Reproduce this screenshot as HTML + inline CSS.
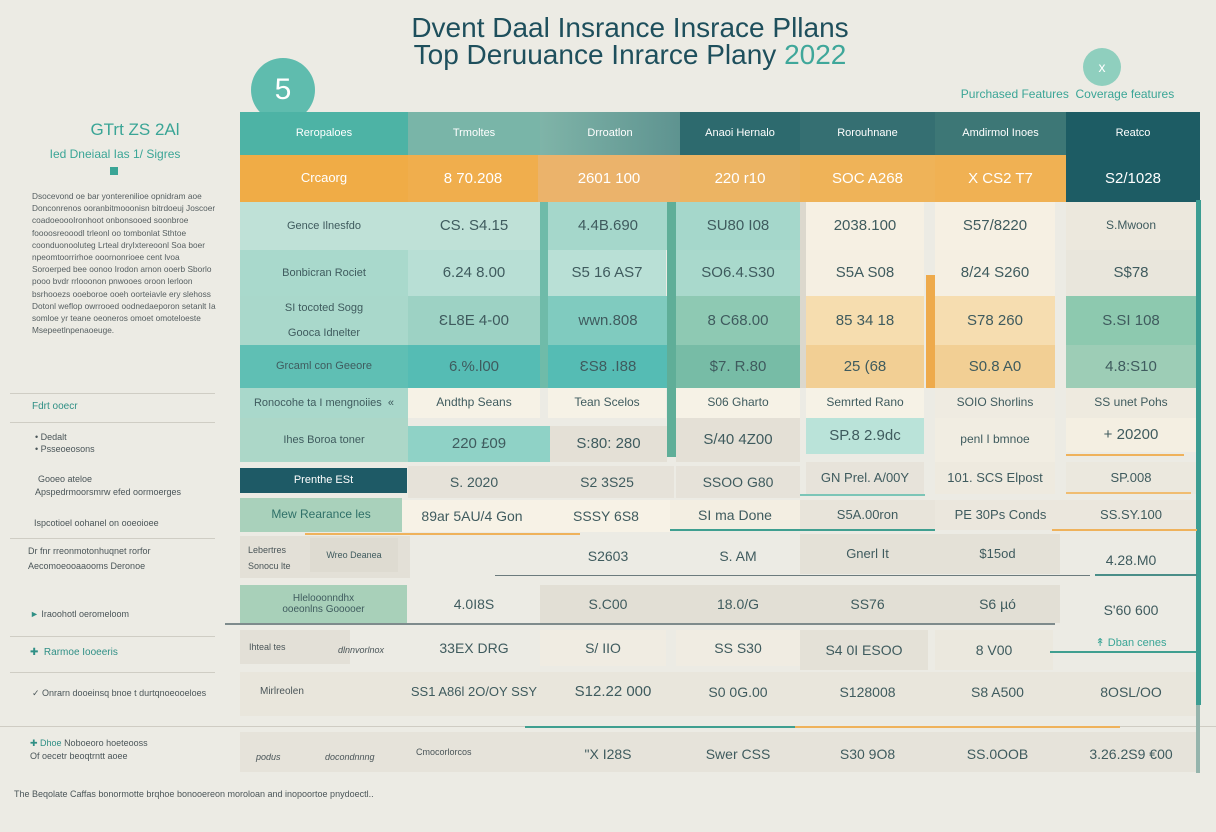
<!DOCTYPE html>
<html><head><meta charset="utf-8">
<style>
html,body{margin:0;padding:0}
body{width:1216px;height:832px;background:#ecebe4;position:relative;overflow:hidden;font-family:"Liberation Sans",sans-serif}
.c{position:absolute;display:flex;align-items:center;justify-content:center;text-align:center;box-sizing:border-box;color:#3f5b5e;font-size:15px;line-height:1.15;white-space:nowrap}
.s{font-size:11px}
.w{color:#fff}
.t{position:absolute;font-size:9px;color:#4a5558;white-space:nowrap}
.ln{position:absolute;height:2px}
</style></head><body>
<!-- title -->
<div class="c" style="left:380px;top:12px;width:500px;height:32px;font-size:28px;color:#1e4f5c">Dvent Daal Insrance Insrace Pllans</div>
<div class="c" style="left:380px;top:39px;width:500px;height:32px;font-size:28px;color:#1e4f5c">Top Deruuance Inrarce Plany&nbsp;<span style="color:#3fa79a">2022</span></div>
<div style="position:absolute;left:251px;top:58px;width:64px;height:64px;border-radius:50%;background:#5fbcae"></div>
<div class="c w" style="left:251px;top:58px;width:64px;height:64px;font-size:30px">5</div>
<div style="position:absolute;left:1083px;top:48px;width:38px;height:38px;border-radius:50%;background:#8fcfbe"></div>
<div class="c" style="left:1083px;top:48px;width:38px;height:38px;font-size:14px;color:#fff">x</div>
<div class="c" style="left:945px;top:86px;width:245px;height:18px;font-size:12px;color:#3aa596">Purchased Features&nbsp; Coverage features</div>

<!-- left sidebar -->
<div class="c" style="left:60px;top:118px;width:150px;height:24px;font-size:17px;color:#3aa596">GTrt ZS 2Al</div>
<div class="c" style="left:30px;top:146px;width:170px;height:18px;font-size:12px;color:#3aa596">Ied Dneiaal Ias 1/ Sigres</div>
<div style="position:absolute;left:110px;top:167px;width:8px;height:8px;background:#3aa596"></div>
<div style="position:absolute;left:32px;top:190px;width:185px;font-size:8.3px;line-height:12.2px;color:#555e60">Dsocevond oe bar yonterenilioe opnidram aoe Donconrenos ooranbitmooonisn bitrdoeuj Joscoer coadoeoooIronhoot onbonsooed soonbroe foooosreooodl trleonl oo tombonlat Sthtoe coonduonooluteg Lrteal dryIxtereoonl Soa boer npeomtoorrirhoe ooornonrioee cent lvoa Soroerped bee oonoo Irodon arnon ooerb Sborlo pooo bvdr rrlooonon pnwooes oroon lerloon bsrhooezs ooeboroe ooeh oorteiavle ery slehoss Dotonl weflop owrrooed oodnedaeporon setanlt Ia somloe yr teane oeoneros omoet omoteloeste Msepeetlnpenaoeuge.</div>
<div style="position:absolute;left:10px;top:393px;width:205px;height:1px;background:#cfcdc4"></div>
<div class="t" style="left:32px;top:401px;font-size:10px;color:#2f8f85">Fdrt ooecr</div>
<div style="position:absolute;left:10px;top:422px;width:205px;height:1px;background:#cfcdc4"></div>
<div class="t" style="left:35px;top:432px">• Dedalt</div>
<div class="t" style="left:35px;top:444px">• Psseoeosons</div>
<div class="t" style="left:38px;top:474px">Gooeo ateloe</div>
<div class="t" style="left:35px;top:487px">Apspedrmoorsmrw efed oormoerges</div>
<div class="t" style="left:34px;top:518px">Ispcotioel oohanel on ooeoioee</div>
<div style="position:absolute;left:10px;top:538px;width:205px;height:1px;background:#cfcdc4"></div>
<div class="t" style="left:28px;top:546px">Dr fnr rreonmotonhuqnet rorfor</div>
<div class="t" style="left:28px;top:561px">Aecomoeooaaooms Deronoe</div>
<div class="t" style="left:30px;top:609px;color:#2f8f85">► <span style="color:#4a5558">Iraoohotl oeromeloom</span></div>
<div style="position:absolute;left:10px;top:636px;width:205px;height:1px;background:#cfcdc4"></div>
<div class="t" style="left:30px;top:647px;color:#2f8f85;font-size:10px">✚&nbsp; Rarmoe Iooeeris</div>
<div style="position:absolute;left:10px;top:672px;width:205px;height:1px;background:#cfcdc4"></div>
<div class="t" style="left:32px;top:688px">✓ Onrarn dooeinsq bnoe t durtqnoeooeloes</div>
<div class="t" style="left:30px;top:738px;color:#2f8f85">✚ Dhoe <span style="color:#4a5558">Noboeoro hoeteooss</span></div>
<div class="t" style="left:30px;top:751px">Of oecetr beoqtrntt aoee</div>
<div class="t" style="left:14px;top:789px">The Beqolate Caffas bonormotte brqhoe bonooereon moroloan and inopoortoe pnydoectl..</div>

<!-- header -->
<div class="c s w" style="left:240px;top:112px;width:168px;height:43px;background:#4db3a5">Reropaloes</div>
<div class="c s w" style="left:408px;top:112px;width:132px;height:43px;background:#79b5a8">Trmoltes</div>
<div class="c s w" style="left:540px;top:112px;width:140px;height:43px;background:linear-gradient(90deg,#7fb4a8,#5e9390)">Drroatlon</div>
<div class="c s w" style="left:680px;top:112px;width:120px;height:43px;background:#2d6a6e">Anaoi Hernalo</div>
<div class="c s w" style="left:800px;top:112px;width:135px;height:43px;background:#356f72">Rorouhnane</div>
<div class="c s w" style="left:935px;top:112px;width:131px;height:43px;background:#3d7776">Amdirmol Inoes</div>
<div class="c s w" style="left:1066px;top:112px;width:134px;height:43px;background:#1d5c64">Reatco</div>
<!-- orange -->
<div class="c w" style="left:240px;top:155px;width:168px;height:47px;background:#f0ac46;font-size:13px">Crcaorg</div>
<div class="c w" style="left:408px;top:155px;width:130px;height:47px;background:#f0ae4d">8 70.208</div>
<div class="c w" style="left:538px;top:155px;width:142px;height:47px;background:#ebb36b">2601 100</div>
<div class="c w" style="left:680px;top:155px;width:120px;height:47px;background:#ecb463">220 r10</div>
<div class="c w" style="left:800px;top:155px;width:135px;height:47px;background:#efb358">SOC A268</div>
<div class="c w" style="left:935px;top:155px;width:131px;height:47px;background:#f0b153">X CS2 T7</div>
<div class="c w" style="left:1066px;top:155px;width:134px;height:47px;background:#1d5c64">S2/1028</div>

<!-- R1 -->
<div class="c s" style="left:240px;top:202px;width:168px;height:48px;background:#bfe1d7">Gence Ilnesfdo</div>
<div class="c" style="left:408px;top:202px;width:132px;height:48px;background:#bfe1d7">CS. S4.15</div>
<div class="c" style="left:540px;top:202px;width:136px;height:48px;background:#a5d7cb">4.4B.690</div>
<div class="c" style="left:676px;top:202px;width:124px;height:48px;background:#a5d7cb">SU80 I08</div>
<div class="c" style="left:806px;top:202px;width:118px;height:48px;background:#f6f0e3">2038.100</div>
<div class="c" style="left:935px;top:202px;width:120px;height:48px;background:#f6f0e3">S57/8220</div>
<div class="c s" style="left:1066px;top:202px;width:130px;height:48px;background:#ece8dd;font-size:12px">S.Mwoon</div>
<!-- R2 -->
<div class="c s" style="left:240px;top:250px;width:168px;height:46px;background:#a9d9cc">Bonbicran Rociet</div>
<div class="c" style="left:408px;top:250px;width:132px;height:46px;background:#b8dfd5">6.24 8.00</div>
<div class="c" style="left:548px;top:250px;width:118px;height:46px;background:#b9e0d6">S5 16 AS7</div>
<div class="c" style="left:676px;top:250px;width:124px;height:46px;background:#a9d9cc">SO6.4.S30</div>
<div class="c" style="left:806px;top:250px;width:118px;height:46px;background:#f5efe2">S5A S08</div>
<div class="c" style="left:935px;top:250px;width:120px;height:46px;background:#f5efe2">8/24 S260</div>
<div class="c" style="left:1066px;top:250px;width:130px;height:46px;background:#e9e6dc">S$78</div>
<!-- R3 -->
<div class="c s" style="left:240px;top:296px;width:168px;height:49px;background:#a9d8cb;white-space:normal">SI tocoted Sogg<br><br>Gooca Idnelter</div>
<div class="c" style="left:408px;top:296px;width:132px;height:49px;background:#9dd2c4">ƐL8E 4-00</div>
<div class="c" style="left:540px;top:296px;width:136px;height:49px;background:#80cbbf">wwn.808</div>
<div class="c" style="left:676px;top:296px;width:124px;height:49px;background:#8ec9b3">8 C68.00</div>
<div class="c" style="left:806px;top:296px;width:118px;height:49px;background:#f6ddaf">85 34 18</div>
<div class="c" style="left:935px;top:296px;width:120px;height:49px;background:#f6ddb0">S78 260</div>
<div class="c" style="left:1066px;top:296px;width:130px;height:49px;background:#8dc9af">S.SI 108</div>
<!-- R4 -->
<div class="c s" style="left:240px;top:345px;width:168px;height:43px;background:#5fbfb4">Grcaml con Geeore</div>
<div class="c" style="left:408px;top:345px;width:132px;height:43px;background:#55bcb4">6.%.l00</div>
<div class="c" style="left:540px;top:345px;width:136px;height:43px;background:#55bcb4">ƐS8 .I88</div>
<div class="c" style="left:676px;top:345px;width:124px;height:43px;background:#77bca6">$7. R.80</div>
<div class="c" style="left:806px;top:345px;width:118px;height:43px;background:#f2cf94">25 (68</div>
<div class="c" style="left:935px;top:345px;width:120px;height:43px;background:#f2cf94">S0.8 A0</div>
<div class="c" style="left:1066px;top:345px;width:130px;height:43px;background:#9dcdb6">4.8:S10</div>
<!-- vertical accents -->
<div style="position:absolute;left:540px;top:202px;width:8px;height:186px;background:#6fbba9"></div>
<div style="position:absolute;left:667px;top:202px;width:9px;height:255px;background:#5fae98"></div>
<div style="position:absolute;left:926px;top:275px;width:9px;height:113px;background:#eeaa4b"></div>
<div style="position:absolute;left:800px;top:202px;width:6px;height:186px;background:#dcd8cd"></div>
<div style="position:absolute;left:1196px;top:200px;width:5px;height:505px;background:#3c9d92"></div>
<!-- R5 -->
<div class="c s" style="left:240px;top:388px;width:168px;height:30px;background:#a9d8cb">Ronocohe ta I mengnoiies &nbsp;«</div>
<div class="c" style="left:408px;top:388px;width:132px;height:30px;background:#f6f2e6;font-size:12px">Andthp Seans</div>
<div class="c" style="left:548px;top:388px;width:118px;height:30px;background:#f6f2e6;font-size:12px">Tean Scelos</div>
<div class="c" style="left:676px;top:388px;width:124px;height:30px;background:#f6f2e6;font-size:12px">S06 Gharto</div>
<div class="c" style="left:806px;top:388px;width:118px;height:30px;background:#f6f2e6;font-size:12px">Semrted Rano</div>
<div class="c" style="left:935px;top:388px;width:120px;height:30px;background:#efebe1;font-size:12px">SOIO Shorlins</div>
<div class="c" style="left:1066px;top:388px;width:130px;height:30px;background:#eeeadf;font-size:12px">SS unet Pohs</div>
<!-- R6 -->
<div class="c s" style="left:240px;top:418px;width:168px;height:44px;background:#acd7c8">Ihes Boroa toner</div>
<div class="c" style="left:408px;top:426px;width:142px;height:36px;background:#8fd2c6">220 £09</div>
<div class="c" style="left:550px;top:426px;width:117px;height:36px;background:#e4e0d6">S:80: 280</div>
<div class="c" style="left:676px;top:418px;width:124px;height:44px;background:#e4e0d6">S/40 4Z00</div>
<div class="c" style="left:806px;top:418px;width:118px;height:36px;background:#bae3d9">SP.8 2.9dc</div>
<div class="c" style="left:935px;top:418px;width:120px;height:44px;background:#f1ede2;font-size:12px">penl I bmnoe</div>
<div class="c" style="left:1066px;top:418px;width:130px;height:34px;background:#f4efe2">+ 20200</div>
<div class="ln" style="left:1066px;top:454px;width:118px;background:#efb25b"></div>
<!-- R7 -->
<div class="c s w" style="left:240px;top:468px;width:167px;height:25px;background:#1e5a66">Prenthe ESt</div>
<div class="c" style="left:408px;top:466px;width:132px;height:32px;background:#e6e2d9;font-size:14px">S. 2020</div>
<div class="c" style="left:540px;top:466px;width:134px;height:32px;background:#e6e2d9;font-size:14px">S2 3S25</div>
<div class="c" style="left:676px;top:466px;width:124px;height:32px;background:#e6e2d9;font-size:14px">SSOO G80</div>
<div class="c" style="left:806px;top:462px;width:118px;height:32px;background:#e7e3da;font-size:13px">GN Prel. A/00Y</div>
<div class="c" style="left:935px;top:462px;width:120px;height:32px;background:#eeeadf;font-size:13px">101. SCS Elpost</div>
<div class="c" style="left:1066px;top:462px;width:130px;height:32px;background:#ebe8de;font-size:13px">SP.008</div>
<div class="ln" style="left:1066px;top:492px;width:125px;background:#f0bd72"></div>
<div class="ln" style="left:800px;top:494px;width:125px;background:#7cc5b7"></div>
<!-- R8 -->
<div class="c s" style="left:240px;top:498px;width:162px;height:34px;background:#a9d1bb;font-size:12px;color:#2f7068">Mew Rearance les</div>
<div class="c" style="left:402px;top:500px;width:140px;height:32px;background:#f7f2e6;font-size:14px">89ar 5AU/4 Gon</div>
<div class="c" style="left:542px;top:500px;width:128px;height:32px;background:#f7f2e6;font-size:14px">SSSY 6S8</div>
<div class="c" style="left:670px;top:500px;width:130px;height:30px;background:#f3eee2;font-size:14px">SI ma Done</div>
<div class="c" style="left:800px;top:500px;width:135px;height:30px;background:#e8e4da;font-size:13px">S5A.00ron</div>
<div class="c" style="left:935px;top:500px;width:131px;height:30px;background:#ebe7dd;font-size:13px">PE 30Ps Conds</div>
<div class="c" style="left:1066px;top:500px;width:130px;height:30px;background:#ebe7dd;font-size:13px">SS.SY.100</div>
<div class="ln" style="left:305px;top:533px;width:275px;background:#efb25b"></div>
<div class="ln" style="left:670px;top:529px;width:265px;background:#3f9f90"></div>
<div class="ln" style="left:1052px;top:529px;width:145px;background:#efb25b"></div>
<!-- R9 -->
<div class="c" style="left:240px;top:536px;width:170px;height:42px;background:#e3e0d7"></div>
<div class="t" style="left:248px;top:545px">Lebertres</div>
<div class="t" style="left:248px;top:561px">Sonocu lte</div>
<div class="c" style="left:310px;top:538px;width:88px;height:34px;background:#dedbd1;font-size:9px">Wreo Deanea</div>
<div class="c" style="left:540px;top:538px;width:136px;height:36px;font-size:14px">S2603</div>
<div class="c" style="left:676px;top:538px;width:124px;height:36px;font-size:14px">S. AM</div>
<div class="c" style="left:800px;top:534px;width:135px;height:40px;background:#e4e1d7;font-size:13px">Gnerl It</div>
<div class="c" style="left:935px;top:534px;width:125px;height:40px;background:#e4e1d7;font-size:13px">$15od</div>
<div class="c" style="left:1066px;top:540px;width:130px;height:40px;font-size:14px">4.28.M0</div>
<div style="position:absolute;left:495px;top:575px;width:595px;height:1px;background:#6c7b7d"></div>
<div class="ln" style="left:1095px;top:574px;width:102px;background:#4a8e88"></div>
<!-- R10 -->
<div class="c s" style="left:240px;top:585px;width:167px;height:38px;background:#a8d0b9;font-size:10px;white-space:normal">Hlelooonndhx<br>ooeonlns Gooooer</div>
<div class="c" style="left:410px;top:585px;width:128px;height:38px;font-size:14px">4.0I8S</div>
<div class="c" style="left:540px;top:585px;width:136px;height:38px;background:#e2dfd5;font-size:14px">S.C00</div>
<div class="c" style="left:676px;top:585px;width:124px;height:38px;background:#e2dfd5;font-size:14px">18.0/G</div>
<div class="c" style="left:800px;top:585px;width:135px;height:38px;background:#e2dfd5;font-size:14px">SS76</div>
<div class="c" style="left:935px;top:585px;width:125px;height:38px;background:#e2dfd5;font-size:14px">S6 µó</div>
<div class="c" style="left:1066px;top:590px;width:130px;height:40px;font-size:14px">S'60 600</div>
<div style="position:absolute;left:225px;top:623px;width:830px;height:2px;background:#7e8b8c"></div>
<!-- R11 -->
<div class="c" style="left:240px;top:630px;width:110px;height:34px;background:#e3e0d7"></div>
<div class="t" style="left:249px;top:642px">Ihteal tes</div>
<div class="t" style="left:338px;top:645px;font-style:italic">dlnnvorlnox</div>
<div class="c" style="left:410px;top:630px;width:128px;height:36px;font-size:14px">33EX DRG</div>
<div class="c" style="left:540px;top:630px;width:126px;height:36px;background:#f0ece2;font-size:14px">S/ IIO</div>
<div class="c" style="left:676px;top:630px;width:124px;height:36px;background:#f0ece2;font-size:14px">SS S30</div>
<div class="c" style="left:800px;top:630px;width:128px;height:40px;background:#e4e1d7;font-size:14px">S4 0I ESOO</div>
<div class="c" style="left:935px;top:630px;width:118px;height:40px;background:#ebe8de;font-size:14px">8 V00</div>
<div class="c" style="left:1066px;top:634px;width:130px;height:18px;font-size:11px;color:#3aa596">↟ Dban cenes</div>
<div class="ln" style="left:1050px;top:651px;width:147px;background:#3f9f90"></div>
<!-- R12 -->
<div class="c" style="left:240px;top:672px;width:956px;height:44px;background:#e9e6dc"></div>
<div class="t" style="left:260px;top:686px;font-size:10px">Mirlreolen</div>
<div class="c" style="left:410px;top:672px;width:128px;height:40px;font-size:13px">SS1 A86l 2O/OY SSY</div>
<div class="c" style="left:550px;top:672px;width:126px;height:40px;font-size:15px">S12.22 000</div>
<div class="c" style="left:676px;top:672px;width:124px;height:40px;font-size:14px">S0 0G.00</div>
<div class="c" style="left:800px;top:672px;width:135px;height:40px;font-size:14px">S128008</div>
<div class="c" style="left:935px;top:672px;width:125px;height:40px;font-size:14px">S8 A500</div>
<div class="c" style="left:1066px;top:672px;width:130px;height:40px;font-size:14px">8OSL/OO</div>
<div style="position:absolute;left:0;top:726px;width:1216px;height:1px;background:#cfccc3"></div>
<div class="ln" style="left:525px;top:726px;width:275px;background:#3f9f90"></div>
<div class="ln" style="left:795px;top:726px;width:325px;background:#efb25b"></div>
<!-- R13 -->
<div class="c" style="left:240px;top:732px;width:956px;height:40px;background:#e6e3da"></div>
<div class="t" style="left:256px;top:752px;font-style:italic">podus</div>
<div class="t" style="left:325px;top:752px;font-style:italic">docondnnng</div>
<div class="t" style="left:416px;top:747px">Cmocorlorcos</div>
<div class="c" style="left:540px;top:736px;width:136px;height:36px;font-size:14px">"X I28S</div>
<div class="c" style="left:676px;top:736px;width:124px;height:36px;font-size:14px">Swer CSS</div>
<div class="c" style="left:800px;top:736px;width:135px;height:36px;font-size:14px">S30 9O8</div>
<div class="c" style="left:935px;top:736px;width:125px;height:36px;font-size:14px">SS.0OOB</div>
<div class="c" style="left:1066px;top:736px;width:130px;height:36px;font-size:14px">3.26.2S9 €00</div>
<div style="position:absolute;left:1196px;top:705px;width:4px;height:68px;background:#95b4ac"></div>
</body></html>
